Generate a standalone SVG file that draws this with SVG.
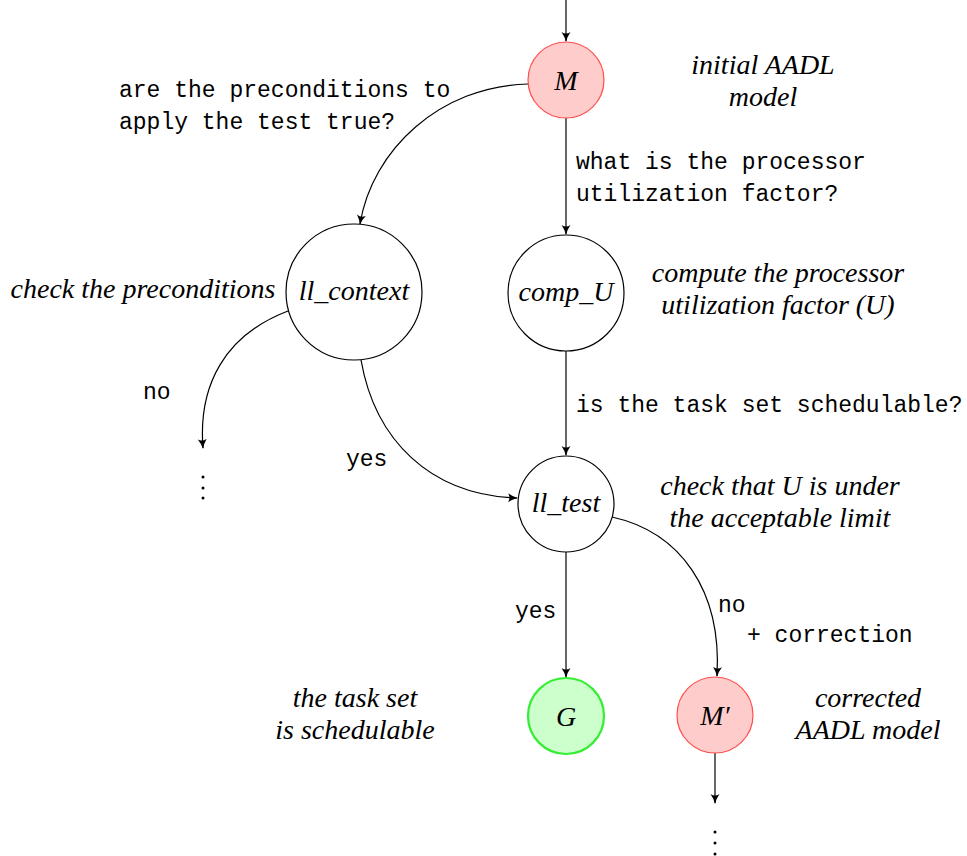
<svg xmlns="http://www.w3.org/2000/svg" width="967" height="856" viewBox="0 0 967 856">
<style>
.n{fill:#fff;stroke:#000;stroke-width:1.2}
.red{fill:#ffcccc;stroke:#ff4d4d;stroke-width:1.2}
.grn{fill:#ccffcc;stroke:#33ee33;stroke-width:2.2}
.e{fill:none;stroke:#000;stroke-width:1.2;marker-end:url(#ah)}
.it{font-family:"Liberation Serif",serif;font-style:italic;font-size:28px;fill:#000;text-anchor:middle}
.mt{font-family:"Liberation Serif",serif;font-style:italic;font-size:28px;fill:#000;text-anchor:middle}
.tt{font-family:"Liberation Mono",monospace;font-size:23px;fill:#000}
</style>
<defs>
<marker id="ah" viewBox="0 0 10 10" refX="9" refY="5" markerWidth="10" markerHeight="10" markerUnits="userSpaceOnUse" orient="auto">
<path d="M0,0.5 Q5,4 10,5 Q5,6 0,9.5 Q3,5 0,0.5Z" fill="#000"/>
</marker>
</defs>
<g id="connectors">
<path class="e" d="M566,0 L566,41"/>
<path class="e" d="M528,84 C440,86 372,150 360,224"/>
<path class="e" d="M566,118 L566,234"/>
<path class="e" d="M288,311 C225,335 198,385 203,448"/>
<path class="e" d="M361,360 C375,440 430,495 517,498"/>
<path class="e" d="M566,351 L566,455"/>
<path class="e" d="M566,552 L566,677"/>
<path class="e" d="M612,517 C680,532 722,590 717,676"/>
<path class="e" d="M715,753 L715,803"/>
</g>
<g id="node-M"><circle class="red" cx="566" cy="80" r="38"/><text class="mt" x="566" y="90">M</text></g>
<g id="node-ll_context"><circle class="n" cx="354" cy="292" r="68"/><text class="mt" x="354" y="300">ll_context</text></g>
<g id="node-comp_U"><circle class="n" cx="566" cy="293" r="58"/><text class="mt" x="566" y="301">comp_U</text></g>
<g id="node-ll_test"><circle class="n" cx="566" cy="504" r="48"/><text class="mt" x="566" y="512">ll_test</text></g>
<g id="node-G"><circle class="grn" cx="566" cy="716" r="38"/><text class="mt" x="566" y="726">G</text></g>
<g id="node-Mp"><circle class="red" cx="715" cy="715" r="38"/><text class="mt" x="715" y="725">M′</text></g>
<g id="dots-left"><circle cx="203" cy="477" r="1.5"/><circle cx="203" cy="488" r="1.5"/><circle cx="203" cy="498" r="1.5"/></g>
<g id="dots-bottom"><circle cx="715" cy="832" r="1.5"/><circle cx="715" cy="843" r="1.5"/><circle cx="715" cy="854" r="1.5"/></g>
<g id="labels">
<text class="tt" x="119" y="97">are the preconditions to</text>
<text class="tt" x="119" y="129">apply the test true?</text>
<text class="tt" x="576" y="169">what is the processor</text>
<text class="tt" x="576" y="201">utilization factor?</text>
<text class="tt" x="143" y="399">no</text>
<text class="tt" x="346" y="466">yes</text>
<text class="tt" x="576" y="412">is the task set schedulable?</text>
<text class="tt" x="515" y="618">yes</text>
<text class="tt" x="718" y="612">no</text>
<text class="tt" x="747" y="642">+ correction</text>
<text class="it" x="763" y="74">initial AADL</text>
<text class="it" x="763" y="106">model</text>
<text class="it" x="143" y="298">check the preconditions</text>
<text class="it" x="778" y="282">compute the processor</text>
<text class="it" x="778" y="314">utilization factor (U)</text>
<text class="it" x="780" y="495">check that U is under</text>
<text class="it" x="780" y="527">the acceptable limit</text>
<text class="it" x="355" y="707">the task set</text>
<text class="it" x="355" y="739">is schedulable</text>
<text class="it" x="868" y="707">corrected</text>
<text class="it" x="868" y="739">AADL model</text>
</g>
</svg>
